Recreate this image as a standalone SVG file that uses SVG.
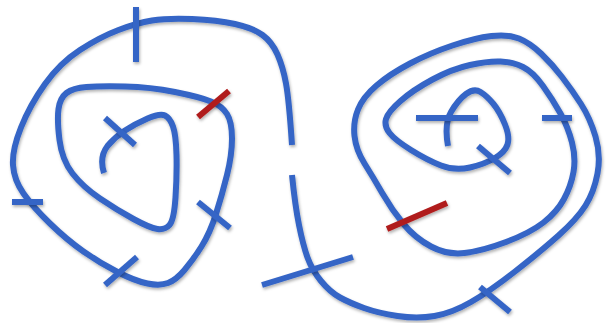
<svg xmlns="http://www.w3.org/2000/svg" width="606" height="323" viewBox="0 0 606 323">
<defs>
<filter id="sh" x="-10%" y="-10%" width="120%" height="120%">
<feDropShadow dx="1" dy="2" stdDeviation="1.4" flood-color="#000" flood-opacity="0.3"/>
</filter>
<style>
.c{fill:none;stroke:#3565c6;stroke-width:6;stroke-linecap:butt;stroke-linejoin:round}
.t{fill:none;stroke:#3565c6;stroke-width:6;stroke-linecap:butt}
.r{fill:none;stroke:#b01c1c;stroke-width:6;stroke-linecap:butt}
</style>
</defs>
<rect width="606" height="323" fill="#ffffff"/>
<g id="curves" filter="url(#sh)">
<path id="left-spiral" class="c" d="M292,145 Q289,100 286,83.5 Q283,67 277.5,54.5 Q272,42 262.5,35 Q253,28 235,24 Q217,20 192,19 Q167,18 152,20.5 Q137,23 118.5,30 Q100,37 80,50 Q60,63 45,84 Q30,105 21,127.5 Q12,150 13,165 Q14,180 23.5,193.5 Q33,207 50,223.5 Q67,240 83.5,251.5 Q100,263 117.5,272 Q135,281 147.5,283.5 Q160,286 168,283 Q176,280 184.5,270 Q193,260 201.5,246.5 Q210,233 216,214 Q222,195 227,175 Q232,155 232,138.5 Q232,122 227,114 Q222,106 211,101.5 Q200,97 175,92 Q150,87 125,86.5 Q100,86 86.5,87 Q73,88 66.5,93 Q60,98 58.5,109 Q57,120 59.5,140 Q62,160 72.5,173.5 Q83,187 100,198.5 Q117,210 133.5,219 Q150,228 157.5,229 Q165,230 169.5,225 Q174,220 175.5,197.5 Q177,175 176.5,155 Q176,135 173,126.5 Q170,118 165,115.5 Q160,113 147.5,118.5 Q135,124 125,130.5 Q115,137 107.5,146 Q99,157 104,173"/>
<path id="right-spiral" class="c" d="M292,175 Q295,205 299,225 Q303,245 307.5,257.5 Q312,270 321,281 Q330,292 340,297.5 Q350,303 364,308 Q378,313 397.5,316 Q417,319 434.5,316 Q452,313 471,302 Q490,291 515,271.5 Q540,252 558.5,235.5 Q577,219 585.5,205.5 Q594,192 597.5,173.5 Q601,155 595.5,136.5 Q590,118 581,104 Q572,90 562,77 Q552,64 541,53.5 Q530,43 519,38.5 Q508,34 491.5,36 Q475,38 452.5,45.5 Q430,53 410,63.5 Q390,74 376.5,85.5 Q363,97 358,109.5 Q353,122 354.5,136 Q356,150 364.5,163.5 Q373,177 382.5,193.5 Q392,210 403.5,224 Q415,238 431,246.5 Q447,255 464.5,253 Q482,251 506,242 Q530,233 543.5,222.5 Q557,212 564,199 Q571,186 573.5,172 Q576,158 572,142.5 Q568,127 560.5,113.5 Q553,100 543,86 Q533,72 523,67 Q513,62 500.5,61.5 Q488,61 470,65 Q452,69 432.5,79.5 Q413,90 400.5,101 Q388,112 386,119 Q384,126 389.5,133 Q395,140 411,150 Q427,160 441,165.5 Q455,171 470,167.5 Q485,164 495,158 Q505,152 507.5,144.5 Q510,137 505,124.5 Q500,112 493.5,104 Q487,96 480.5,92 Q474,88 466,94 Q458,100 451,112 Q444,124 448,146"/>
</g>
<g id="ticks" filter="url(#sh)">
<line class="t" x1="136" y1="7" x2="136" y2="62"/>
<line class="r" x1="198" y1="117" x2="229" y2="91"/>
<line class="t" x1="105" y1="118" x2="135" y2="145"/>
<line class="t" x1="12" y1="202" x2="43" y2="202"/>
<line class="t" x1="105" y1="285" x2="137" y2="257"/>
<line class="t" x1="198" y1="202" x2="230" y2="228"/>
<line class="t" x1="262" y1="285" x2="353" y2="257"/>
<line class="t" x1="416" y1="118" x2="478" y2="118"/>
<line class="t" x1="478" y1="146" x2="510" y2="173"/>
<line class="t" x1="542" y1="118" x2="572" y2="118"/>
<line class="r" x1="387" y1="229" x2="447" y2="203"/>
<line class="t" x1="480" y1="287" x2="510" y2="312"/>
</g>
</svg>
